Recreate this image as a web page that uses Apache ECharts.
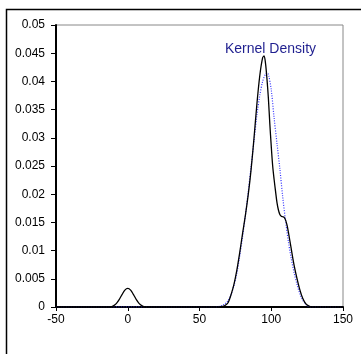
<!DOCTYPE html>
<html><head><meta charset="utf-8">
<script src="https://cdn.jsdelivr.net/npm/echarts@6/dist/echarts.min.js"></script>
<style>html,body{margin:0;padding:0;background:#fff}#c{width:361px;height:354px}</style>
</head><body><div id="c"></div>
<script>
// Kernel density (black, solid)
const kdX = [-50,-20,-12,-10,-8,-6,-4,-2,0,2,4,6,8,10,12,20,60,66,68,70,72,74,76,78,80,82,84,86,88,90,92,94,95,96,97,98,99,100,101,102,103,104,105,106,107,108,109,110,111,112,114,116,118,120,122,124,126,128,150];
const kdY = [0,0,0,0.0002,0.0006,0.0013,0.0022,0.0030,0.0033,0.0030,0.0022,0.0013,0.0006,0.0002,0,0,0,0.0001,0.0003,0.0008,0.0022,0.0040,0.0065,0.0096,0.0130,0.0163,0.0200,0.0245,0.0300,0.0360,0.0410,0.0442,0.0445,0.0432,0.0405,0.0370,0.0325,0.0285,0.0250,0.0226,0.0205,0.0185,0.0172,0.0164,0.0161,0.0160,0.0159,0.0154,0.0145,0.0132,0.0102,0.0073,0.0050,0.0030,0.0015,0.0006,0.0002,0,0];
// Reference density (blue, dotted)
const refX = [-50,60,64,66,68,70,72,74,76,78,80,82,84,86,88,90,92,94,96,97,98,100,102,104,106,108,110,112,114,116,118,120,122,124,126,128,150];
const refY = [0,0,0.0001,0.0003,0.0006,0.0012,0.0022,0.0038,0.0060,0.0090,0.0125,0.0163,0.0205,0.0250,0.0295,0.0340,0.0375,0.0400,0.0413,0.0415,0.0413,0.0385,0.0335,0.0290,0.0245,0.0195,0.0152,0.0115,0.0085,0.0060,0.0040,0.0023,0.0012,0.0005,0.0001,0,0];
const seriesLabel = 'Kernel Density';

const chart = echarts.init(document.getElementById('c'));
const font = 'Liberation Sans, Arial, sans-serif';
chart.setOption({
  animation: false,
  grid: {left: 56, top: 25, right: 18, bottom: 47, show: true, borderColor: '#888', borderWidth: 1, backgroundColor: 'transparent'},
  xAxis: {
    type: 'value', min: -50, max: 150, interval: 50,
    axisLine: {onZero: false, lineStyle: {color: '#000', width: 2}},
    axisTick: {length: 4, lineStyle: {color: '#000', width: 1}},
    axisLabel: {color: '#000', fontSize: 12, fontFamily: font, margin: 7},
    splitLine: {show: false}
  },
  yAxis: {
    type: 'value', min: 0, max: 0.05, interval: 0.005,
    axisLine: {show: true, onZero: false, lineStyle: {color: '#000', width: 2}},
    axisTick: {show: true, length: 5, lineStyle: {color: '#000', width: 1}},
    axisLabel: {color: '#000', fontSize: 12, fontFamily: font, margin: 11,
      formatter: v => String(parseFloat(v.toFixed(3)))},
    splitLine: {show: false}
  },
  series: [
    {type: 'line', data: refX.map((x, i) => [x, refY[i]]), smooth: 0.3, symbol: 'none',
      lineStyle: {color: '#3333ff', width: 1.2, type: [1, 1.5]}, z: 2},
    {type: 'line', data: kdX.map((x, i) => [x, kdY[i]]), smooth: 0.3, symbol: 'none',
      lineStyle: {color: '#000', width: 1.3}, z: 3}
  ],
  graphic: [
    {type: 'rect', shape: {x: 6.5, y: 9.5, width: 400, height: 400}, style: {fill: 'none', stroke: '#000', lineWidth: 1.5}, silent: true},
    {type: 'text', left: 225, top: 42, style: {text: seriesLabel, fill: '#1f1f8f', font: '14px ' + font}}
  ]
});
</script></body></html>
